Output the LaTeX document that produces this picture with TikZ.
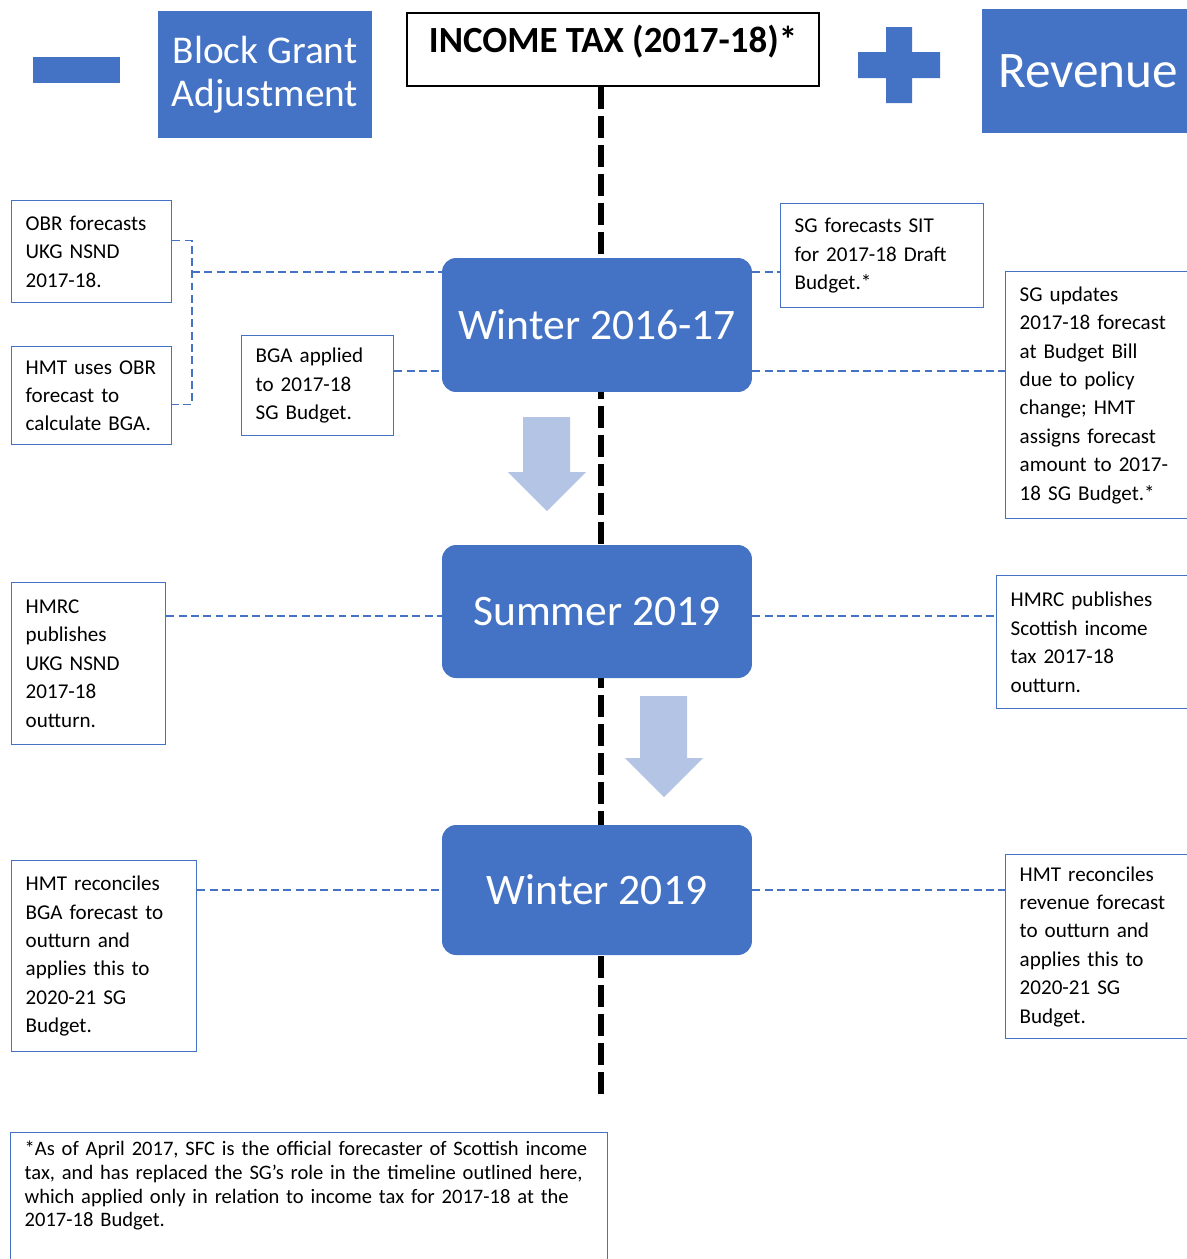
\documentclass[tikz,border=0pt]{standalone}
\usepackage{fontspec}
\setmainfont{Carlito}
\usepackage{tikz}
\usetikzlibrary{positioning, calc}
\definecolor{sgblue}{RGB}{68,114,196}
\definecolor{arrowblue}{RGB}{180,196,228}

\begin{document}
\begin{tikzpicture}[x=0.02cm, y=-0.02cm,
        bluebox/.style={rectangle, fill=sgblue, text=white, align=center, inner sep=0pt},
        event/.style={bluebox, rounded corners=0.28cm, minimum width=6.2cm, font=\fontsize{24.8}{28}\selectfont},
        note/.style={rectangle, draw=sgblue, line width=0.8pt, fill=white, align=left, inner xsep=0.28cm, inner ysep=0pt, anchor=north west, font=\fontsize{12}{16.2}\selectfont},
        link/.style={draw=sgblue, line width=0.75pt, dash pattern=on 4.5pt off 2.5pt},
        timeline/.style={draw=black, line width=3.8pt, dash pattern=on 12.5pt off 4pt},
        bigarrow/.style={fill=arrowblue}]

    \clip (0,0) rectangle (1187,1259);

    % Header: minus, BGA, title, plus, revenue
    \fill[sgblue] (33,57) rectangle (120,83);
    \node[bluebox, minimum width=4.28cm, minimum height=2.54cm, font=\fontsize{22.4}{24.4}\selectfont] (bga) at (265,74.5) {Block Grant\\Adjustment};
    \node[rectangle, draw=black, line width=0.8pt, minimum width=8.24cm, minimum height=1.46cm, text depth=0.42cm, font=\bfseries\fontsize{21}{24}\selectfont] (title) at (613,49.5) {INCOME TAX (2017-18)*};
    \fill[sgblue] (858,52) rectangle (940,78) (886,27) rectangle (912,103);
    \node[bluebox, anchor=west, minimum width=4.24cm, minimum height=2.48cm, font=\fontsize{29.2}{32}\selectfont] (revenue) at (982,71) {Revenue};

    % Timeline
    \coordinate (tlend) at (601,1100);
    \path[timeline] (title.south -| tlend) -- (tlend);

    % Events
    \node[event, minimum height=2.68cm] (win1) at (597,325) {Winter 2016-17};
    \node[event, minimum height=2.66cm] (sum) at (597,611.5) {Summer 2019};
    \node[event, minimum height=2.6cm] (win2) at (597,890) {Winter 2019};

    % Block arrows
    \fill[bigarrow] (523,417) -- (570,417) -- (570,472) -- (586,472) -- (547,511) -- (508,472) -- (523,472) -- cycle;
    \fill[bigarrow] (640,696) -- (687,696) -- (687,758) -- (703,758) -- (664,797) -- (625,758) -- (640,758) -- cycle;

    % Notes
    \node[note, text width=2.64cm, minimum height=2.04cm] (obr) at (11,200) {OBR forecasts\\UKG NSND\\2017-18.};
    \node[note, text width=2.64cm, minimum height=1.96cm] (hmtuse) at (11,346) {HMT uses OBR\\forecast to\\calculate BGA.};
    \node[note, text width=2.48cm, minimum height=2.0cm] (bgaapp) at (241,335) {BGA applied\\to 2017-18\\SG Budget.};
    \node[note, text width=3.5cm, minimum height=2.08cm] (sgfc) at (780,203) {SG forecasts SIT\\for 2017-18 Draft\\Budget.*};
    \node[note, text width=3.44cm, minimum height=4.94cm] (sgupd) at (1005,271) {SG updates\\2017-18 forecast\\at Budget Bill\\due to policy\\change; HMT\\assigns forecast\\amount to 2017-\\18 SG Budget.*};
    \node[note, text width=2.52cm, minimum height=3.24cm] (hmrcl) at (11,582) {HMRC\\publishes\\UKG NSND\\2017-18\\outturn.};
    \node[note, text width=3.64cm, minimum height=2.66cm] (hmrcr) at (996,575) {HMRC publishes\\Scottish income\\tax 2017-18\\outturn.};
    \node[note, text width=3.14cm, minimum height=3.82cm] (hmtrl) at (11,860) {HMT reconciles\\BGA forecast to\\outturn and\\applies this to\\2020-21 SG\\Budget.};
    \node[note, text width=3.44cm, minimum height=3.68cm] (hmtrr) at (1005,854) {HMT reconciles\\revenue forecast\\to outturn and\\applies this to\\2020-21 SG\\Budget.};
    \node[note, text width=11.38cm, inner ysep=0.16cm, text depth=3cm, font=\fontsize{11.7}{13.6}\selectfont] (foot) at (10,1132) {*As of April 2017, SFC is the official forecaster of Scottish income\\tax, and has replaced the SG’s role in the timeline outlined here,\\which applied only in relation to income tax for 2017-18 at the\\2017-18 Budget.};

    % Links
    \coordinate (brk) at (192,272);
    \coordinate (row2) at (601,371);
    \coordinate (row3) at (601,616);
    \path[link] ($(obr.east)+(0,-11)$) -| (brk) |- ($(hmtuse.east)+(0,9)$);
    \path[link] (brk) -- (brk -| win1.west);
    \path[link] (bgaapp.east |- row2) -- (win1.west |- row2);
    \path[link] (win1.east |- brk) -- (sgfc.west |- brk);
    \path[link] (win1.east |- row2) -- (sgupd.west |- row2);
    \path[link] (hmrcl.east |- row3) -- (sum.west |- row3);
    \path[link] (sum.east |- row3) -- (hmrcr.west |- row3);
    \path[link] (hmtrl.east |- win2.west) -- (win2.west);
    \path[link] (win2.east) -- (win2.east -| hmtrr.west);

\end{tikzpicture}
\end{document}
